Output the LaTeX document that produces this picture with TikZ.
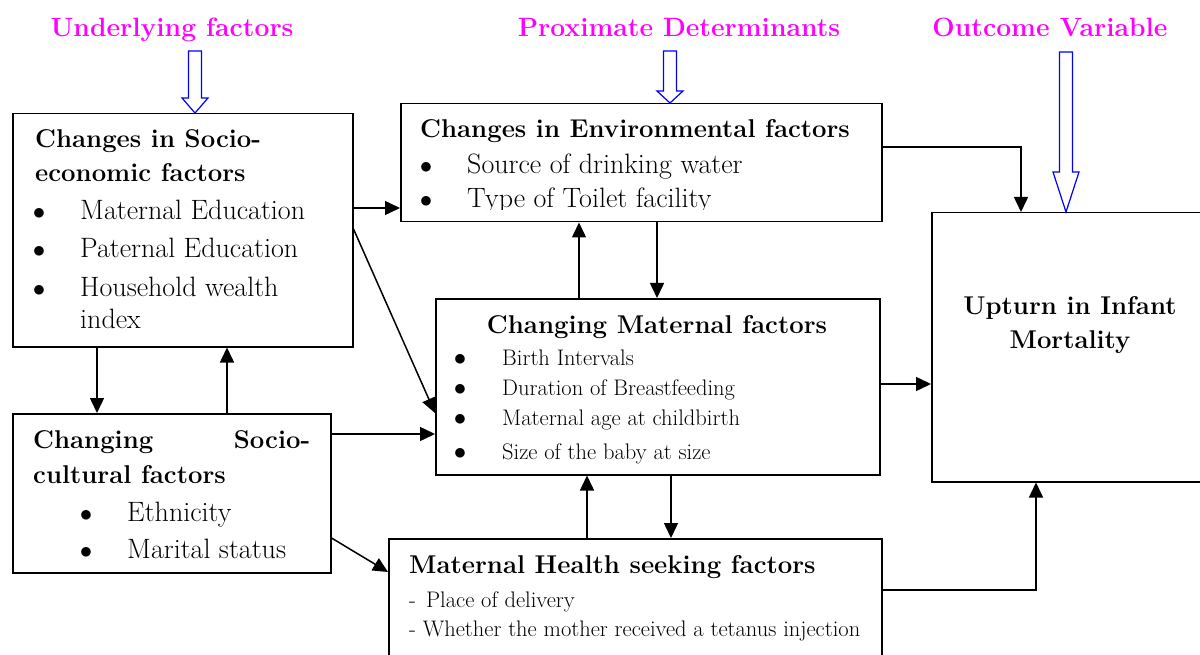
\documentclass[tikz,border=0pt]{standalone}
\usepackage{fontspec}
\usepackage{tikz}
\usetikzlibrary{arrows.meta, calc}

\definecolor{headpink}{RGB}{255,0,255}
\definecolor{blockblue}{RGB}{0,0,255}

\tikzset{
  box/.style={draw, line width=1.5pt, inner sep=0pt, anchor=north west},
  link/.style={->, line width=1.5pt},
  heading/.style={anchor=base, inner sep=0pt, text=headpink, font=\fontsize{26.5}{30}\selectfont\bfseries},
  title/.style={anchor=base west, inner sep=0pt, font=\fontsize{25.7}{30}\selectfont\bfseries},
  body/.style={anchor=base west, inner sep=0pt, font=\fontsize{28}{32}\selectfont},
  small/.style={anchor=base west, inner sep=0pt, font=\fontsize{22.5}{26}\selectfont},
  dot/.style={anchor=base, inner sep=0pt, font=\fontsize{34}{36}\selectfont},
  smalldot/.style={anchor=base, inner sep=0pt, font=\fontsize{26}{28}\selectfont},
}

% hollow block arrow: x, top of shaft, start of head, tip
\newcommand{\blockarrow}[4]{%
  \draw[blockblue, line width=1.2pt, fill=white]
    (#1-6.5,#2) -- (#1+6.5,#2) -- (#1+6.5,#3) -- (#1+13,#3) -- (#1,#4)
    -- (#1-13,#3) -- (#1-6.5,#3) -- cycle;}

\begin{document}
\begin{tikzpicture}[x=1pt, y=-1pt, >={Triangle[length=15pt,width=14pt]}]
  \useasboundingbox (0,0) rectangle (1200,655);

  % 1. headings
  \node[heading] (under) at (172,37) {Underlying factors};
  \node[heading] (prox) at (679,37) {Proximate Determinants};
  \node[heading] (outc) at (1050,37) {Outcome Variable};

  % 2. boxes
  \node[box, minimum width=340, minimum height=233] (econ) at (12,113) {};
  \node[box, minimum width=481, minimum height=118] (env) at (400,103) {};
  \node[box, minimum width=318, minimum height=159] (cult) at (12,413) {};
  \node[box, minimum width=444, minimum height=176] (mat) at (435,298) {};
  \node[box, minimum width=493, minimum height=150] (care) at (388,538) {};
  \node[box, minimum width=300, minimum height=269] (imr) at (931,212) {};

  % hollow arrows (headings -> columns)
  \blockarrow{195}{51}{98}{113}
  \blockarrow{670}{51}{91}{103}
  \blockarrow{1066}{52}{172}{212}

  % 3. socio-economic
  \node[title] (econ-t1) at (35,148) {Changes in Socio-};
  \node[title] (econ-t2) at (35,182) {economic factors};
  \foreach \t [count=\i] in {Maternal Education, Paternal Education, Household wealth} {
    \node[dot] (econ-d\i) at (39,182+38*\i) {$\bullet$};
    \node[body] (econ-i\i) at (80,182+38*\i) {\t};
  }
  \node[body] (econ-i4) at (80,328) {index};

  % 4. environmental (last line cut by the frame)
  \begin{scope}
    \clip (env.north west) rectangle (env.east |- 0,210);
    \node[title] (env-t) at (420,138) {Changes in Environmental factors};
    \foreach \t [count=\i] in {Source of drinking water, Type of Toilet facility} {
      \node[dot] (env-d\i) at (426,140+34*\i) {$\bullet$};
      \node[body] (env-i\i) at (467,140+34*\i) {\t};
    }
  \end{scope}

  % 5. socio-cultural
  \node[title] (cult-t1) at (33,448) {\makebox[277pt][l]{Changing\hfill Socio-}};
  \node[title] (cult-t2) at (33,483) {cultural factors};
  \foreach \t [count=\i] in {Ethnicity, Marital status} {
    \node[dot] (cult-d\i) at (86,484+37*\i) {$\bullet$};
    \node[body] (cult-i\i) at (127,484+37*\i) {\t};
  }

  % 6. maternal
  \node[title, anchor=base] (mat-t) at (657,333) {Changing Maternal factors};
  \foreach \t/\y [count=\i] in {Birth Intervals/365, Duration of Breastfeeding/395,
      Maternal age at childbirth/425, Size of the baby at size/459} {
    \node[smalldot] (mat-d\i) at (460,\y) {$\bullet$};
    \node[small] (mat-i\i) at (502,\y) {\t};
  }

  % 7. health seeking
  \node[title] (care-t) at (409,573) {Maternal Health seeking factors};
  \node[small] (care-i1) at (409,607) {-\hspace{0.45em}Place of delivery};
  \node[small] (care-i2) at (409,636) {- Whether the mother received a tetanus injection};

  % 8. outcome
  \node[title, anchor=base] (imr-t1) at (1070,315) {Upturn in Infant};
  \node[title, anchor=base] (imr-t2) at (1070,348) {Mortality};

  % 9. connectors
  \draw[link] (econ.east |- 0,208) -- (env.west |- 0,208);
  \draw[link] (econ.east |- 0,229) -- (mat.west |- 0,413);
  \draw[link] (econ.south -| 97,0) -- (cult.north -| 97,0);
  \draw[link] (cult.north -| 227,0) -- (econ.south -| 227,0);
  \draw[link] (cult.east |- 0,434) -- (mat.west |- 0,434);
  \draw[link] (cult.east |- 0,538) -- (care.west |- 0,572);
  \draw[link] (mat.north -| 579,0) -- (env.south -| 579,0);
  \draw[link] (env.south -| 657,0) -- (mat.north -| 657,0);
  \draw[link] (care.north -| 587,0) -- (mat.south -| 587,0);
  \draw[link] (mat.south -| 671,0) -- (care.north -| 671,0);
  \draw[link] (env.east |- 0,147) -| (imr.north -| 1021,0);
  \draw[link] (mat.east |- 0,384) -- (imr.west |- 0,384);
  \draw[link] (care.east |- 0,590) -| (imr.south -| 1036,0);

\end{tikzpicture}
\end{document}
